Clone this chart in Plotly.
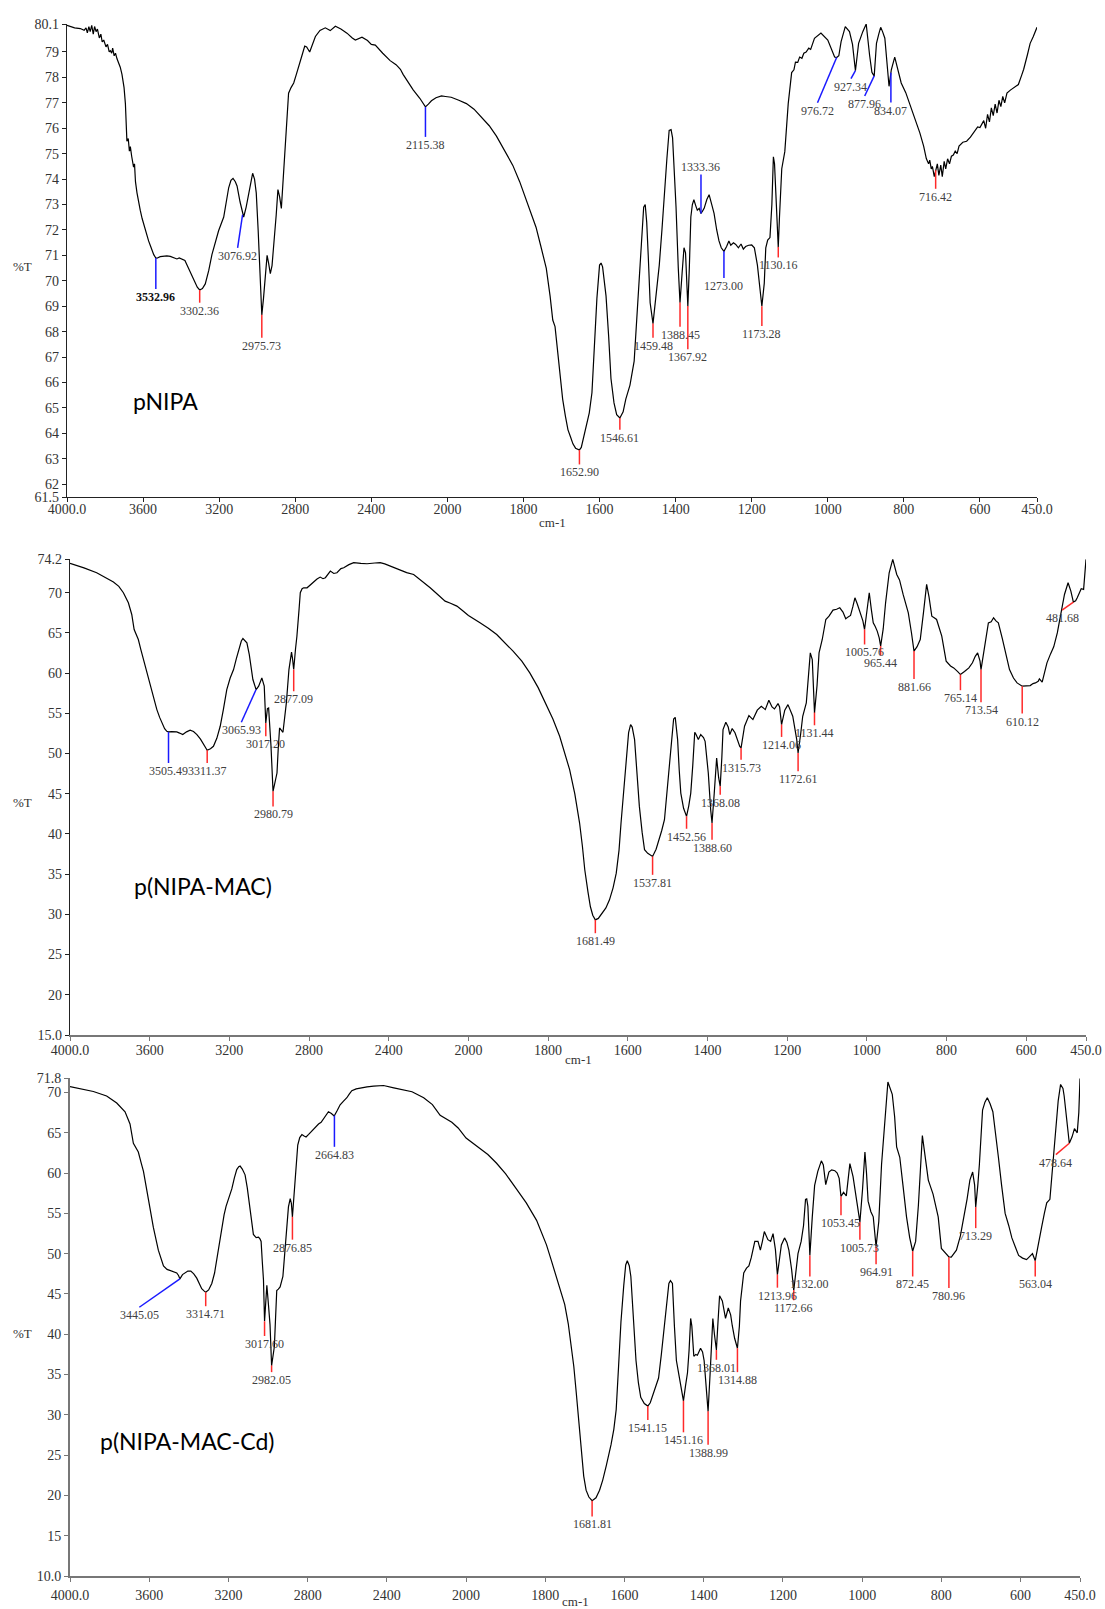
import numpy as np
import plotly.graph_objects as go

# ---------------- data ----------------
p1 = [
(4000,80.05),(3960,79.95),(3930,79.92),(3910,79.85),(3900,79.95),(3893,79.75),(3885,80.0),(3878,79.8),
(3870,80.05),(3862,79.7),(3855,80.0),(3847,79.8),(3840,79.9),(3830,79.55),(3822,79.7),(3815,79.4),
(3807,79.47),(3795,79.2),(3787,79.3),(3778,79.0),(3772,79.05),(3765,78.95),(3760,79.15),(3752,78.85),
(3745,78.95),(3737,78.73),(3720,78.4),(3711,78.12),(3700,77.6),(3693,76.97),(3685,75.49),(3678,75.6),
(3672,75.1),(3667,75.28),(3660,74.9),(3650,74.47),(3645,74.6),(3640,73.9),(3632,73.46),(3624,73.1),
(3615,72.78),(3605,72.45),(3597,72.24),(3585,71.9),(3571,71.57),(3560,71.35),(3550,71.1),(3544,71.03),
(3533,70.9),(3527,70.89),(3510,70.95),(3492,70.96),(3475,70.98),(3457,70.96),(3440,70.9),(3422,70.86),
(3410,70.9),(3395,70.86),(3380,70.8),(3369,70.62),(3350,70.3),(3334,70.08),(3315,69.75),(3302.4,69.64),
(3288,69.7),(3273,69.88),(3255,70.4),(3238,71.03),(3220,71.5),(3203,71.97),(3176,72.51),(3160,73.2),
(3150,73.66),(3138,73.95),(3127,74.03),(3115,73.9),(3106,73.73),(3090,73.1),(3077,72.6),(3071,72.51),
(3058,72.9),(3045,73.46),(3033,73.9),(3024,74.23),(3014,74.0),(3005,73.46),(2995,72.0),(2987,70.49),
(2980,69.2),(2975.7,68.66),(2967,69.3),(2957,70.22),(2948,71.0),(2940,70.7),(2931,70.28),(2922,70.6),
(2910,71.57),(2900,72.6),(2891,73.59),(2882,73.3),(2873,72.85),(2862,74.2),(2852,75.35),(2843,76.5),
(2835,77.38),(2822,77.6),(2808,77.78),(2795,78.1),(2782,78.46),(2765,78.85),(2750,79.23),(2740,79.2),
(2724,79.0),(2710,79.3),(2694,79.61),(2670,79.85),(2642,79.95),(2616,79.84),(2589,80.01),(2560,79.9),
(2528,79.74),(2500,79.55),(2484,79.47),(2449,79.58),(2420,79.45),(2400,79.3),(2379,79.27),(2340,78.95),
(2301,78.66),(2270,78.5),(2247,78.32),(2233,78.12),(2205,77.8),(2180,77.51),(2145,77.18),(2130,77.0),
(2115.4,76.84),(2100,76.95),(2084,77.08),(2060,77.2),(2031,77.27),(2010,77.25),(1990,77.22),(1970,77.1),
(1950,76.97),(1930,76.75),(1915,76.5),(1890,76.1),(1871,75.69),(1850,75.15),(1828,74.54),(1810,73.9),
(1793,73.19),(1780,72.7),(1767,72.11),(1755,71.4),(1740,70.49),(1730,69.4),(1723,68.46),(1717,68.2),
(1710,67.11),(1703,66.2),(1697,65.35),(1690,64.7),(1683,64.14),(1676,63.85),(1670,63.59),(1663,63.42),
(1657,63.39),(1652.9,63.35),(1648,63.45),(1644,63.73),(1636,64.2),(1627,64.81),(1620,65.6),(1614,67.51),
(1607,69.3),(1600,70.62),(1596,70.7),(1592,70.55),(1588,70.0),(1583,69.41),(1576,67.8),(1570,66.16),
(1562,65.2),(1555,64.74),(1546.6,64.61),(1538,64.85),(1531,65.35),(1520,65.9),(1509,66.84),(1502,68.5),
(1496,70.22),(1489,71.8),(1484,72.9),(1480,73.0),(1476,72.3),(1472,71.0),(1467,69.14),(1459.5,68.32),
(1452,69.3),(1443,70.62),(1436,72.0),(1430,73.46),(1423,74.8),(1417,75.92),(1412,75.95),(1408,75.62),
(1403,74.3),(1399,72.92),(1393,70.5),(1388.5,69.14),(1383,70.3),(1378,71.3),(1374,71.1),(1367.9,69.0),
(1364,70.5),(1360,72.51),(1356,73.0),(1352,73.19),(1347,72.95),(1343,72.78),(1338,72.85),(1333.4,72.65),
(1329,72.75),(1325,72.85),(1318,73.2),(1312,73.39),(1305,73.0),(1299,72.65),(1292,72.0),(1286,71.57),
(1280,71.3),(1273,71.16),(1266,71.35),(1260,71.57),(1255,71.4),(1248,71.5),(1242,71.43),(1235,71.3),
(1228,71.45),(1222,71.25),(1216,71.35),(1208,71.4),(1200,71.41),(1193,71.3),(1185,70.62),(1180,69.8),
(1173.3,69.0),(1167,69.9),(1163,71.3),(1158,71.6),(1152,71.7),(1147,73.0),(1143,74.88),(1140,74.6),
(1137,73.46),(1133,72.0),(1130.2,71.32),(1127,72.5),(1121,74.41),(1113,75.08),(1108,76.0),(1104,76.97),
(1095,78.19),(1089,78.3),(1085,78.6),(1079,78.59),(1074,78.8),(1068,78.75),(1063,78.95),(1057,79.0),
(1050,79.15),(1045,79.1),(1035,79.54),(1018,79.74),(1000,79.47),(990,79.1),(982,78.8),(976.7,78.78),
(971,78.85),(965,79.41),(954,80.0),(943,79.8),(935,79.3),(927.3,78.26),(919,79.34),(908,79.8),
(899,80.1),(890,78.86),(884,78.2),(878,78.05),(872,79.34),(866,79.7),(861,79.97),(856,79.8),
(850,79.54),(839,77.65),(833,78.3),(824,78.8),(815,78.3),(807,77.78),(795,77.4),(785,76.97),
(770,76.4),(758,75.82),(748,75.3),(741,74.81),(735,74.6),(732,74.75),(728,74.4),(725,74.5),
(720,74.1),(716.4,74.35),(712,74.6),(708,74.15),(703,74.55),(699,74.1),(694,74.7),(690,74.4),
(685,74.8),(680,74.6),(675,74.9),(670,74.95),(665,75.1),(660,75.0),(655,75.3),(645,75.45),
(635,75.49),(625,75.65),(615,75.85),(606,76.05),(600,76.03),(590,76.3),(585,76.0),(580,76.55),
(575,76.25),(570,76.8),(565,76.5),(560,76.95),(555,76.6),(550,77.1),(545,76.85),(540,77.25),
(535,77.0),(529,77.38),(520,77.5),(510,77.6),(499,77.72),(490,78.1),(485,78.32),(475,78.9),
(468,79.34),(460,79.6),(455,79.8),(450,79.97)]

p2 = [
(4000,73.65),(3930,73.1),(3866,72.49),(3820,71.9),(3782,71.33),(3755,70.8),(3732,70.0),(3707,68.75),
(3690,67.3),(3678,65.43),(3670,65.0),(3657,64.19),(3645,63.0),(3631,61.7),(3615,60.0),(3598,58.38),
(3580,56.8),(3564,55.47),(3550,54.5),(3539,53.81),(3525,53.1),(3514,52.77),(3505.5,52.7),(3490,52.72),
(3464,52.69),(3450,52.55),(3434,52.36),(3415,52.7),(3397,52.9),(3380,52.75),(3363,52.36),(3345,51.8),
(3330,51.11),(3311.4,50.41),(3295,50.6),(3280,50.9),(3263,51.9),(3246,53.4),(3230,55.5),(3213,57.96),
(3196,59.4),(3179,60.45),(3165,61.8),(3154,62.94),(3140,64.0),(3132,64.31),(3122,64.1),(3112,63.77),
(3100,62.3),(3090,60.3),(3082,59.21),(3065.9,57.96),(3053,58.38),(3037,59.41),(3025,58.38),(3017.2,53.81),
(3009,55.6),(3003,55.68),(2991,50.9),(2980.8,45.3),(2968,47.0),(2961,47.58),(2955,50.5),(2948,53.19),
(2931,52.65),(2922,54.5),(2914,56.3),(2901,60.45),(2892,62.5),(2888,62.61),(2883,61.8),(2877.1,60.45),
(2868,63.0),(2861,64.6),(2850,68.0),(2844,70.0),(2835,70.5),(2827,70.62),(2810,70.62),(2790,71.1),
(2777,71.33),(2760,71.7),(2744,71.95),(2730,71.75),(2718,71.87),(2700,72.5),(2693,72.7),(2676,72.4),
(2660,72.49),(2640,73.0),(2626,73.11),(2600,73.5),(2576,73.74),(2540,73.65),(2509,73.61),(2470,73.7),
(2443,73.74),(2420,73.6),(2392,73.32),(2358,72.99),(2341,72.82),(2310,72.5),(2275,72.28),(2230,71.4),
(2192,70.62),(2150,69.7),(2117,68.96),(2090,68.7),(2058,68.34),(2030,67.8),(2000,67.18),(1971,66.26),
(1950,65.6),(1929,64.81),(1910,63.9),(1888,62.74),(1866,61.5),(1846,60.04),(1825,58.2),(1804,56.09),
(1788,54.3),(1771,52.15),(1760,50.3),(1746,48.0),(1733,45.0),(1721,41.36),(1714,38.5),(1708,35.55),
(1700,32.8),(1694,30.98),(1688,29.9),(1681.5,29.32),(1674,29.5),(1667,29.94),(1655,30.8),(1646,31.81),
(1637,33.3),(1629,35.13),(1622,38.0),(1617,41.36),(1610,45.5),(1604,49.66),(1598,52.6),(1593,53.6),
(1589,53.3),(1583,51.74),(1577,47.6),(1571,43.43),(1564,40.2),(1558,38.04),(1550,37.6),(1544,37.4),
(1537.8,37.21),(1529,38.1),(1521,39.28),(1515,40.4),(1508,41.77),(1502,45.0),(1496,48.41),(1490,52.0),
(1485,54.3),(1481,54.5),(1475,51.74),(1471,48.0),(1467,45.09),(1460,43.2),(1452.6,42.19),(1447,43.5),
(1442,45.09),(1437,48.5),(1432,52.65),(1429,52.4),(1423,51.74),(1417,52.36),(1410,52.0),(1406,51.53),
(1398,47.58),(1392,43.0),(1388.6,41.36),(1383,45.09),(1377,49.45),(1372,47.0),(1368.1,45.92),(1364,49.5),
(1361,52.98),(1354,53.89),(1348,53.3),(1344,52.36),(1338,53.11),(1331,52.6),(1325,51.74),(1319,50.9),
(1315.7,50.7),(1307,53.4),(1296,54.72),(1290,54.4),(1286,54.23),(1275,55.4),(1265,55.89),(1255,55.47),
(1246,56.63),(1238,55.8),(1232,55.55),(1223,56.22),(1219,55.8),(1214.1,53.6),(1206,55.4),(1198,56.09),
(1186,54.64),(1176,51.74),(1172.6,50.07),(1166,52.5),(1161,54.64),(1152,56.3),(1146,59.5),(1142,62.53),
(1137,61.7),(1131.4,55.06),(1125,58.5),(1120,62.53),(1112,64.19),(1103,66.68),(1095,67.09),(1090,67.5),
(1085,67.84),(1076,67.95),(1068,68.13),(1060,67.6),(1053,66.76),(1047,67.0),(1041,67.18),(1035,68.3),
(1030,69.38),(1024,68.6),(1018,67.72),(1010,66.5),(1005.8,65.43),(999,67.8),(994,70.0),(989,68.0),
(984,66.26),(979,65.8),(974,65.23),(969,64.4),(965.4,63.36),(959,65.5),(953,68.75),(944,72.49),
(935,74.15),(925,72.28),(918,71.6),(909,69.79),(896,67.51),(888,65.0),(881.7,62.74),(874,63.3),
(866,64.19),(858,67.5),(850,71.04),(844,69.5),(837,67.09),(831,66.9),(825,66.68),(812,64.6),
(801,61.49),(790,60.9),(782,60.66),(772,60.2),(765.1,59.83),(755,60.2),(744,60.66),(735,61.3),
(728,62.1),(722,62.53),(716,61.5),(713.5,60.45),(704,63.5),(695,66.26),(688,66.4),(682,66.89),
(676,66.5),(670,66.26),(660,64.3),(653,62.94),(642,60.45),(632,59.4),(623,58.79),(610.1,58.38),
(600,58.42),(590,58.46),(583,58.7),(577,58.79),(570,59.0),(567,59.29),(560,58.88),(554,60.0),
(548,61.28),(539,62.4),(531,63.28),(522,65.0),(514,67.09),(504,69.79),(495,71.25),(488,70.2),
(481.7,68.84),(476,69.0),(472,69.38),(466,70.0),(462,70.5),(456,70.42),(450,74.15)]

p3 = [
(4000,70.74),(3940,70.4),(3882,70.13),(3815,69.57),(3764,68.7),(3722,67.61),(3697,66.09),(3680,63.7),
(3670,63.2),(3655,62.61),(3640,61.2),(3629,60.22),(3604,56.74),(3579,53.26),(3554,50.43),(3540,49.2),
(3528,48.48),(3510,48.05),(3495,47.91),(3475,47.8),(3461,47.61),(3452,47.3),(3445,46.87),(3432,47.4),
(3419,47.65),(3405,47.85),(3390,47.83),(3375,47.5),(3360,46.96),(3348,46.3),(3335,45.65),(3322,45.35),
(3314.7,45.22),(3300,45.5),(3284,46.3),(3270,47.6),(3259,49.35),(3245,51.4),(3234,53.26),(3222,54.8),
(3212,55.87),(3197,56.9),(3183,58.04),(3170,59.4),(3158,60.43),(3148,60.8),(3141,60.87),(3130,60.5),
(3116,59.78),(3105,58.2),(3094,56.3),(3084,54.0),(3074,52.39),(3060,52.0),(3048,52.04),(3040,51.8),
(3035,51.52),(3029,49.0),(3023,46.74),(3017.6,41.61),(3012,43.5),(3006,46.09),(2998,43.7),(2990,41.2),
(2982,36.09),(2976,37.0),(2968,38.48),(2962,42.0),(2956,45.43),(2948,45.6),(2939,45.87),(2925,47.17),
(2915,50.5),(2905,54.13),(2897,55.8),(2888,56.83),(2882,56.2),(2876.9,54.57),(2868,57.5),(2863,59.35),
(2856,61.5),(2850,63.48),(2840,64.4),(2829,64.78),(2818,64.6),(2808,64.48),(2795,64.8),(2779,65.22),
(2760,65.7),(2745,66.09),(2732,66.3),(2720,66.74),(2707,67.2),(2695,67.61),(2680,67.4),(2666,67.09),
(2650,67.8),(2636,68.48),(2620,68.9),(2602,69.35),(2590,69.8),(2577,70.22),(2555,70.45),(2535,70.57),
(2500,70.7),(2467,70.78),(2432,70.87),(2417,70.87),(2365,70.57),(2333,70.43),(2300,70.2),(2273,70.09),
(2214,69.35),(2170,68.5),(2131,67.17),(2100,66.7),(2072,66.3),(2040,65.6),(2000,64.35),(1965,63.04),
(1945,62.3),(1923,61.22),(1900,59.9),(1873,58.04),(1848,56.3),(1822,54.13),(1797,51.09),(1785,49.2),
(1772,47.17),(1760,45.4),(1751,43.7),(1742,41.3),(1734,38.48),(1728,36.0),(1722,32.83),(1715,28.8),
(1709,25.0),(1703,22.4),(1697,20.65),(1690,19.8),(1681.8,19.35),(1672,19.7),(1663,20.65),(1655,21.9),
(1646,23.7),(1640,24.9),(1634,26.3),(1627,28.2),(1621,30.65),(1615,36.0),(1609,41.52),(1602,46.0),
(1597,48.6),(1593,49.13),(1588,48.5),(1584,47.17),(1578,42.0),(1571,36.74),(1565,34.0),(1559,32.17),
(1550,31.4),(1541.2,31.09),(1535,31.5),(1529,32.39),(1522,33.4),(1514,34.57),(1507,37.5),(1500,41.09),
(1493,44.5),(1488,46.3),(1484,46.65),(1479,46.3),(1474,41.0),(1469,36.74),(1462,34.78),(1456,33.0),
(1451.2,31.74),(1446,33.6),(1441,35.22),(1437,38.0),(1433,41.96),(1430,41.0),(1425,37.26),(1420,37.5),
(1416,37.39),(1408,38.26),(1403,37.8),(1399,36.74),(1394,33.0),(1389,30.43),(1384,35.0),(1380,38.5),
(1377,41.96),(1373,40.0),(1368,38.04),(1364,41.5),(1360,44.78),(1353,44.13),(1345,41.96),(1338,43.26),
(1332,42.4),(1328,41.09),(1322,39.5),(1314.9,38.26),(1310,41.0),(1307,44.13),(1299,47.61),(1292,48.2),
(1286,48.48),(1280,49.5),(1271,51.52),(1263,51.52),(1257,50.43),(1252,51.5),(1247,52.74),(1238,51.74),
(1231,51.52),(1225,52.48),(1219,50.5),(1214,47.39),(1208,49.5),(1204,51.09),(1196,51.96),(1190,51.4),
(1185,50.43),(1178,48.0),(1172.7,45.43),(1167,48.0),(1162,50.0),(1154,51.52),(1148,53.5),(1143,56.74),
(1140,56.8),(1137,55.87),(1132,49.78),(1126,54.5),(1120,58.48),(1112,60.22),(1103,61.52),(1098,61.0),
(1092,58.57),(1084,60.13),(1077,60.4),(1069,60.3),(1063,60.0),(1058,59.35),(1053.5,57.09),(1047,57.61),
(1040,57.17),(1031,61.17),(1023,59.57),(1013,56.3),(1005.7,53.91),(999,58.0),(993,62.61),(989,60.0),
(985,56.52),(978,55.2),(972,54.57),(964.9,50.87),(958,54.0),(951,61.09),(943,66.5),(935,71.3),
(924,69.78),(918,67.0),(913,63.26),(905,61.96),(897,58.5),(888,54.57),(880,52.0),(872.5,50.3),
(865,51.52),(858,56.0),(848,64.65),(840,62.0),(833,59.13),(821,57.39),(808,54.57),(800,50.65),
(787,50.0),(781,49.6),(775,49.57),(762,50.43),(752,52.2),(743,54.57),(735,56.8),(728,59.13),
(721,60.13),(716,58.5),(713.3,55.78),(708,58.5),(704,61.09),(696,67.83),(690,68.8),(684,69.35),
(677,68.6),(670,67.61),(663,65.0),(656,61.96),(648,58.5),(639,55.0),(630,53.5),(622,51.96),
(613,50.8),(605,49.78),(595,49.45),(585,49.26),(578,49.6),(570,50.0),(563,49.13),(555,51.0),
(547,53.26),(540,55.0),(534,56.3),(526,56.74),(520,60.5),(513,65.0),(505,69.0),(499,71.0),
(493,70.5),(490,69.57),(484,66.5),(477,63.7),(470,64.5),(464,65.52),(457,65.0),(453,67.5),(450,71.74)]

# peak marks: label, wavenumber on curve, wavenumber at line end, %T at line end, colour key, label side
peaks1 = [
("3532.96",3532.96,3532.96,69.68,"b","below"),("3302.36",3302.36,3302.36,69.14,"r","below"),
("3076.92",3076.92,3103,71.3,"b","below"),("2975.73",2975.73,2975.73,67.76,"r","below"),
("2115.38",2115.38,2115.38,75.66,"b","below"),("1652.90",1652.9,1652.9,62.78,"r","below"),
("1546.61",1546.61,1546.61,64.14,"r","below"),("1459.48",1459.48,1459.48,67.76,"r","below"),
("1388.45",1388.45,1388.45,68.19,"r","below"),("1367.92",1367.92,1367.92,67.31,"r","below"),
("1333.36",1333.36,1333.36,74.18,"b","above"),("1273.00",1273.0,1273.0,70.11,"b","below"),
("1173.28",1173.28,1173.28,68.22,"r","below"),("1130.16",1130.16,1130.16,70.92,"r","below"),
("976.72",976.72,1027,77.0,"b","below"),("927.34",927.34,939,77.95,"b","below"),
("877.96",877.96,903,77.27,"b","below"),("834.07",834.07,834.07,77.01,"b","below"),
("716.42",716.42,716.42,73.62,"r","below")]
peaks2 = [
("3505.49",3505.49,3505.49,48.83,"b","below"),("3311.37",3311.37,3311.37,48.83,"r","below"),
("3065.93",3065.93,3140,53.89,"b","below"),("3017.20",3017.2,3017.2,52.15,"r","below"),
("2980.79",2980.79,2980.79,43.43,"r","below"),("2877.09",2877.09,2877.09,57.75,"r","below"),
("1681.49",1681.49,1681.49,27.66,"r","below"),("1537.81",1537.81,1537.81,34.92,"r","below"),
("1452.56",1452.56,1452.56,40.65,"r","below"),("1388.60",1388.6,1388.6,39.28,"r","below"),
("1368.08",1368.08,1368.08,44.89,"r","below"),("1315.73",1315.73,1315.73,49.24,"r","below"),
("1214.06",1214.06,1214.06,52.07,"r","below"),("1172.61",1172.61,1172.61,47.79,"r","below"),
("1131.44",1131.44,1131.44,53.52,"r","below"),("1005.76",1005.76,1005.76,63.57,"r","below"),
("965.44",965.44,965.44,62.2,"r","below"),("881.66",881.66,881.66,59.29,"r","below"),
("765.14",765.14,765.14,57.88,"r","below"),("713.54",713.54,713.54,56.38,"r","below"),
("610.12",610.12,610.12,54.97,"r","below"),("481.68",481.68,510,67.84,"r","below")]
peaks3 = [
("3445.05",3445.05,3650,43.35,"b","below"),("3314.71",3314.71,3314.71,43.48,"r","below"),
("3017.60",3017.6,3017.6,39.78,"r","below"),("2982.05",2982.05,2982.05,35.3,"r","below"),
("2876.85",2876.85,2876.85,51.74,"r","below"),("2664.83",2664.83,2664.83,63.26,"b","below"),
("1681.81",1681.81,1681.81,17.39,"r","below"),("1541.15",1541.15,1541.15,29.35,"r","below"),
("1451.16",1451.16,1451.16,27.83,"r","below"),("1388.99",1388.99,1388.99,26.3,"r","below"),
("1368.01",1368.01,1368.01,36.83,"r","below"),("1314.88",1314.88,1314.88,35.3,"r","below"),
("1213.96",1213.96,1213.96,45.78,"r","below"),("1172.66",1172.66,1172.66,44.22,"r","below"),
("1132.00",1132.0,1132.0,47.17,"r","below"),("1053.45",1053.45,1053.45,54.78,"r","below"),
("1005.73",1005.73,1005.73,51.74,"r","below"),("964.91",964.91,964.91,48.7,"r","below"),
("872.45",872.45,872.45,47.17,"r","below"),("780.96",780.96,780.96,45.74,"r","below"),
("713.29",713.29,713.29,53.17,"r","below"),("563.04",563.04,563.04,47.17,"r","below"),
("478.64",477.0,511,62.3,"r","below")]

sample_names = ["pNIPA", "p(NIPA-MAC)", "p(NIPA-MAC-Cd)"]
x_tick_w = [4000, 3600, 3200, 2800, 2400, 2000, 1800, 1600, 1400, 1200, 1000, 800, 600, 450]
x_tick_text = ["4000.0", "3600", "3200", "2800", "2400", "2000", "1800", "1600", "1400", "1200", "1000", "800", "600", "450.0"]
y1_ticks = [61.5] + list(range(62, 80)) + [80.1]
y1_text = ["61.5"] + [str(v) for v in range(62, 80)] + ["80.1"]
y2_ticks = [15] + list(range(20, 71, 5)) + [74.2]
y2_text = ["15.0"] + [str(v) for v in range(20, 71, 5)] + ["74.2"]
y3_ticks = [10] + list(range(15, 71, 5)) + [71.8]
y3_text = ["10.0"] + [str(v) for v in range(15, 71, 5)] + ["71.8"]

# ---------------- helpers ----------------
W, H = 1105, 1609
def u(w):
    w = np.asarray(w, dtype=float)
    return np.where(w > 2000, 2000 + (w - 2000) / 2.0, w)

def px(x): return x / W
def py(y): return 1 - y / H

SERIF = "Liberation Serif"
COL = {"r": "#ff2a2a", "b": "#1a1aff"}

fig = go.Figure()
shapes, annots = [], []

# panel layout: x-span, y-span (page px), y-range, ticks, name position, %T y, cm-1 y, axis styles, label standoff
panels = [
    (p1, peaks1, "x", "y", (67, 1037), (24, 497), (61.5, 80.1), y1_ticks, y1_text, (165, 401), 266.5, 522,
     ("#222", 1.2), ("#222", 1.2), -5),
    (p2, peaks2, "x2", "y2", (70, 1086), (559, 1035), (15, 74.2), y2_ticks, y2_text, (203, 886), 802.5, 1059,
     ("#777", 1.8), ("#222", 1.2), -3),
    (p3, peaks3, "x3", "y3", (70, 1080), (1078, 1576), (10, 71.8), y3_ticks, y3_text, (187, 1441), 1333.5, 1601,
     ("#777", 1.8), ("#777", 1.8), 1),
]

for i, (data, peaks, xr, yr, xd, yd, yrange, yt, ytt, namepos, pt_y, cm_y, xsty, ysty, stand) in enumerate(panels):
    wn = np.array([d[0] for d in data]); tr = np.array([d[1] for d in data])
    fig.add_trace(go.Scatter(x=u(wn), y=tr, mode="lines", xaxis=xr, yaxis=yr,
                             line=dict(color="black", width=1.2), showlegend=False, hoverinfo="skip"))
    for (lab, w0, w1, t1, c, side) in peaks:
        t0 = float(np.interp(w0, wn[::-1], tr[::-1]))
        shapes.append(dict(type="line", xref=xr, yref=yr, x0=float(u(w0)), y0=t0, x1=float(u(w1)), y1=t1,
                           line=dict(color=COL[c], width=1.5)))
        bold = (lab == "3532.96")
        annots.append(dict(xref=xr, yref=yr, x=float(u(w1)), y=t1, text=("<b>%s</b>" % lab) if bold else lab,
                           showarrow=False, xanchor="center", yanchor="top" if side == "below" else "bottom",
                           yshift=1 if side == "below" else -1,
                           font=dict(family=SERIF, size=12, color="#111" if bold else "#404040")))
    sfx = "" if i == 0 else str(i + 1)
    fig.update_layout(**{
        "xaxis" + sfx: dict(domain=[px(xd[0]), px(xd[1])], range=[3000, 450], anchor="y" + sfx,
                            automargin=False, ticklabeloverflow="allow", ticklabelstandoff=stand,
                            tickvals=list(u(x_tick_w)), ticktext=x_tick_text, ticks="outside", ticklen=4,
                            tickcolor=xsty[0], showline=True, linecolor=xsty[0], linewidth=xsty[1],
                            showgrid=False, zeroline=False,
                            tickfont=dict(family=SERIF, size=14, color="#333")),
        "yaxis" + sfx: dict(domain=[py(yd[1]), py(yd[0])], range=list(yrange), anchor="x" + sfx,
                            automargin=False, ticklabeloverflow="allow",
                            tickvals=yt, ticktext=ytt, ticks="outside", ticklen=4, tickcolor=ysty[0],
                            showline=True, linecolor=ysty[0], linewidth=ysty[1], showgrid=False, zeroline=False,
                            tickfont=dict(family=SERIF, size=14, color="#333")),
    })
    annots.append(dict(xref="paper", yref="paper", x=px(namepos[0]), y=py(namepos[1]), text=sample_names[i],
                       showarrow=False, xanchor="center", yanchor="middle",
                       font=dict(family="Lato", size=23, color="black")))
    annots.append(dict(xref="paper", yref="paper", x=px(22.5), y=py(pt_y), text="%T", showarrow=False,
                       xanchor="center", yanchor="middle", font=dict(family=SERIF, size=13, color="#333")))
    annots.append(dict(xref="paper", yref="paper", x=px((xd[0] + xd[1]) / 2), y=py(cm_y), text="cm-1",
                       showarrow=False, xanchor="center", yanchor="middle",
                       font=dict(family=SERIF, size=13, color="#333")))

fig.update_layout(width=W, height=H, margin=dict(l=0, r=0, t=0, b=0, autoexpand=False), paper_bgcolor="white",
                  plot_bgcolor="white", shapes=shapes, annotations=annots, showlegend=False)
fig.write_html("out.html", config={"displayModeBar": False},
               post_script="document.body.style.margin='0';document.body.style.overflow='hidden';")
